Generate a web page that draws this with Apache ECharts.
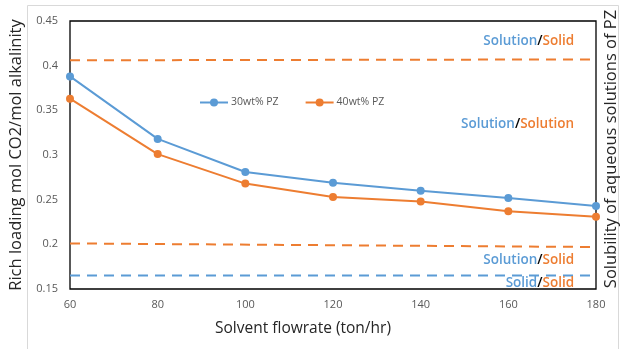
<!DOCTYPE html>
<html><head><meta charset="utf-8">
<script src="https://cdn.jsdelivr.net/npm/echarts@6/dist/echarts.min.js"></script>
<style>html,body{margin:0;padding:0;background:#fff}#c{width:620px;height:349px}</style>
</head><body><div id="c"></div>
<script>
const flowrates = [60, 80, 100, 120, 140, 160, 180];
const pz30 = [0.388, 0.318, 0.281, 0.269, 0.260, 0.252, 0.243];
const pz40 = [0.363, 0.301, 0.268, 0.253, 0.248, 0.237, 0.231];
const limitX = [60, 180];
const orangeUpper = [0.406, 0.407];
const orangeLower = [0.201, 0.197];
const blueLower = [0.165, 0.165];
const regionLabels = [
  {a: 'Solution', b: 'Solid', x: 175, y: 0.427},
  {a: 'Solution', b: 'Solution', x: 175, y: 0.335},
  {a: 'Solution', b: 'Solid', x: 175, y: 0.182},
  {a: 'Solid', b: 'Solid', x: 175, y: 0.157}
];
const BLUE = '#5B9BD5', ORANGE = '#ED7D31';
const FONT = 'Open Sans';

const chart = echarts.init(document.getElementById('c'));
function pair(ys){ return limitX.map((x,i)=>[x, ys[i]]); }
function dashed(ys, color){
  return {type:'line', data: pair(ys), symbol:'none', silent:true,
    lineStyle:{color, width:2, type:[10,7]}, z:1};
}
chart.setOption({
  animation:false,
  grid:{left:68, right:24, top:21, bottom:60, show:true, borderColor:'#000', borderWidth:1.3},
  legend:{
    left:199, top:97, padding:0, itemGap:26, itemWidth:28, itemHeight:10,
    textStyle:{color:'#595959', fontSize:10.5, fontFamily:FONT, padding:[0,0,0,-2]},
    data:['30wt% PZ','40wt% PZ']
  },
  xAxis:{type:'value', min:60, max:180, interval:20,
    axisLine:{show:false}, axisTick:{show:false}, splitLine:{show:false},
    axisLabel:{color:'#595959', fontSize:11, fontFamily:FONT, margin:10}
  },
  yAxis:{type:'value', min:0.15, max:0.45, interval:0.05,
    axisLine:{show:false}, axisTick:{show:false}, splitLine:{show:false},
    axisLabel:{color:'#595959', fontSize:11, fontFamily:FONT, margin:12,
      formatter:v=>String(+v.toFixed(2))},
    name:'Rich loading mol CO2/mol alkalinity', nameLocation:'middle', nameGap:45,
    nameTextStyle:{color:'#262626', fontSize:16.5, fontFamily:FONT}
  },
  series:[
    dashed(orangeUpper, ORANGE),
    dashed(orangeLower, ORANGE),
    dashed(blueLower, BLUE),
    {name:'30wt% PZ', type:'line', data: flowrates.map((x,i)=>[x,pz30[i]]),
      symbol:'circle', symbolSize:8, color:BLUE, lineStyle:{width:2}, z:3},
    {name:'40wt% PZ', type:'line', data: flowrates.map((x,i)=>[x,pz40[i]]),
      symbol:'circle', symbolSize:8, color:ORANGE, lineStyle:{width:2}, z:3}
  ]
});
const gfx = [
  {type:'rect', shape:{x:27.5, y:5.5, width:591, height:350}, style:{fill:null, stroke:'#d9d9d9', lineWidth:1}, silent:true, z:-1},
  {type:'text', x:303, y:329, style:{text:'Solvent flowrate (ton/hr)', fill:'#262626', fontSize:15.5, fontFamily:FONT, align:'center', verticalAlign:'middle'}},
  {type:'text', x:611, y:149, rotation:Math.PI/2, style:{text:'Solubility of aqueous solutions of PZ', fill:'#262626', fontSize:16.5, fontFamily:FONT, align:'center', verticalAlign:'middle'}}
];
regionLabels.forEach(l=>{
  const p = chart.convertToPixel({gridIndex:0}, [l.x, l.y]);
  gfx.push({type:'text', x:p[0], y:p[1], z:10, style:{
    text:'{a|'+l.a+'}{s|/}{b|'+l.b+'}', align:'right', verticalAlign:'middle',
    fontFamily:FONT, fontSize:13.5, fontWeight:600,
    rich:{a:{fill:BLUE, fontSize:13.5, fontWeight:600, fontFamily:FONT},
          s:{fill:'#000', fontSize:13.5, fontWeight:600, fontFamily:FONT},
          b:{fill:ORANGE, fontSize:13.5, fontWeight:600, fontFamily:FONT}}
  }});
});
chart.setOption({graphic:gfx});
</script></body></html>
